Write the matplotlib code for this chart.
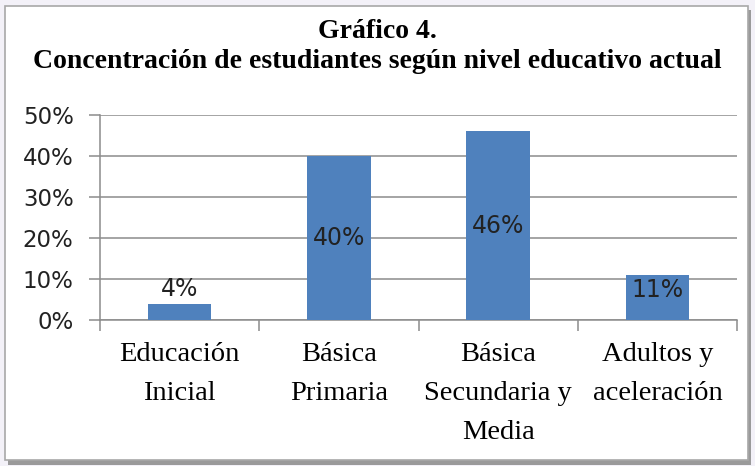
import matplotlib.pyplot as plt
from matplotlib.patches import Rectangle
import numpy as np

categorias = ['Educación\nInicial', 'Básica\nPrimaria', 'Básica\nSecundaria y\nMedia', 'Adultos y\naceleración']
valores = [4, 40, 46, 11]
etiquetas = ['4%', '40%', '46%', '11%']
ticks_y = [0, 10, 20, 30, 40, 50]

W, H = 755, 466
fig = plt.figure(figsize=(W / 100, H / 100), dpi=100)
fig.patch.set_facecolor('#f3f1f8')

# marco blanco con sombra
fig.patches.append(Rectangle((8 / W, 1 - 465 / H), 743 / W, 455 / H, transform=fig.transFigure,
                             facecolor='#9a9a9a', edgecolor='none', zorder=-2))
fig.patches.append(Rectangle((5 / W, 1 - 460 / H), 743 / W, 454 / H, transform=fig.transFigure,
                             facecolor='white', edgecolor='#a8a8a8', linewidth=1.2, zorder=-1))

ax = fig.add_axes([100 / W, 1 - 320 / H, 637 / W, 205 / H])
ax.set_facecolor('none')

x = np.arange(len(valores))
ax.bar(x, valores, width=0.4, color='#4f81bd', zorder=3)

fuente_num = 'DejaVu Sans'
ax.set_xlim(-0.5, 3.5)
ax.set_ylim(0, 50)
ax.set_yticks(ticks_y)
ax.set_yticklabels([f'{t}%' for t in ticks_y], fontfamily=fuente_num, fontsize=16.5, color='#222222')
ax.yaxis.grid(True, color='#8c8c8c', linewidth=1.1, zorder=0)
ax.set_axisbelow(True)

for s in ['top', 'right']:
    ax.spines[s].set_visible(False)
for s in ['left', 'bottom']:
    ax.spines[s].set_color('#8c8c8c')
    ax.spines[s].set_linewidth(1.1)

ax.tick_params(axis='y', length=8, width=1.1, color='#8c8c8c', pad=11)
# ticks del eje x en los limites de categoria
ax.set_xticks(np.arange(-0.5, 4, 1))
ax.set_xticklabels([])
ax.set_xticks(x, minor=True)
ax.set_xticklabels(categorias, minor=True, fontfamily='Liberation Serif', fontsize=20.5,
                   linespacing=1.72, va='top')
ax.tick_params(axis='x', which='major', length=8, width=1.1, color='#8c8c8c', direction='out')
ax.tick_params(axis='x', which='minor', length=0, pad=16)

# etiquetas de datos
pos = ['out', 'mid', 'mid', 'in']
for xi, v, t, modo in zip(x, valores, etiquetas, pos):
    if modo == 'out':
        ax.annotate(t, (xi, v), xytext=(0, 2), textcoords='offset points', ha='center', va='bottom',
                    fontfamily=fuente_num, fontsize=17, color='#222222', zorder=4)
    elif modo == 'mid':
        ax.text(xi, v / 2, t, ha='center', va='center', fontfamily=fuente_num, fontsize=17,
                color='#222222', zorder=4)
    else:
        ax.annotate(t, (xi, v), xytext=(0, -2), textcoords='offset points', ha='center', va='top',
                    fontfamily=fuente_num, fontsize=17, color='#222222', zorder=4)

fig.text(0.5, 1 - 31 / H, 'Gráfico 4.', ha='center', va='center', fontfamily='Liberation Serif',
         fontweight='bold', fontsize=20)
fig.text(0.5, 1 - 61 / H, 'Concentración de estudiantes según nivel educativo actual', ha='center',
         va='center', fontfamily='Liberation Serif', fontweight='bold', fontsize=20)

fig.savefig('out.png', dpi=100, facecolor=fig.get_facecolor())
